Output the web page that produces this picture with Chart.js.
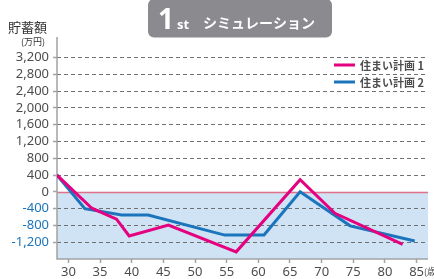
<!DOCTYPE html>
<html>
<head>
<meta charset="utf-8">
<script src="https://cdn.jsdelivr.net/npm/chart.js@4/dist/chart.umd.min.js"></script>
<style>
  html, body { margin: 0; padding: 0; background: #fff; }
  #wrap { width: 434px; height: 279px; position: relative; }
</style>
</head>
<body>
<div id="wrap"><canvas id="chart"></canvas></div>
<script>
// data
const seriesNames = ["住まい計画 1", "住まい計画 2"];
const ages1 = [28.2, 33.7, 37.6, 39.6, 45.8, 56.5, 66.6, 72.1, 82.8];
const plan1 = [400, -390, -650, -1050, -790, -1430, 290, -510, -1250];
const ages2 = [28.2, 32.6, 38.4, 42.6, 54.7, 60.9, 66.6, 74.5, 84.7];
const plan2 = [400, -400, -550, -550, -1030, -1030, 0, -810, -1170];
const xTicks = [30, 35, 40, 45, 50, 55, 60, 65, 70, 75, 80, 85];
const yTicks = [-1200, -800, -400, 0, 400, 800, 1200, 1600, 2000, 2400, 2800, 3200];

const pink = "#e4007f";
const blue = "#1b75bc";
const grayText = "#4d4d4d";
const axisGray = "#a3a3a3";

const toPoints = (xs, ys) => xs.map((x, i) => ({x: x, y: ys[i]}));

// background under zero, zero line, axes, title, legend
const decor = {
    id: "decor",
    beforeDraw(chart) {
        const {ctx, chartArea: a, scales: {y}} = chart;
        const y0 = y.getPixelForValue(0);
        ctx.save();
        ctx.fillStyle = "#cfe3f5";
        ctx.fillRect(a.left, y0, a.right - a.left, a.bottom - y0);
        ctx.restore();
    },
    beforeDatasetsDraw(chart) {
        const {ctx, chartArea: a, scales: {y}} = chart;
        const y0 = Math.round(y.getPixelForValue(0)) + 0.5;
        ctx.save();
        ctx.strokeStyle = "#e0728a";
        ctx.lineWidth = 1.5;
        ctx.beginPath();
        ctx.moveTo(a.left, y0);
        ctx.lineTo(a.right, y0);
        ctx.stroke();
        // axis lines
        ctx.strokeStyle = axisGray;
        ctx.lineWidth = 1.5;
        ctx.beginPath();
        ctx.moveTo(a.left, a.top);
        ctx.lineTo(a.left, a.bottom);
        ctx.lineTo(a.right, a.bottom);
        ctx.stroke();
        ctx.restore();
    },
    afterDraw(chart) {
        const ctx = chart.ctx;
        ctx.save();
        // title box
        ctx.fillStyle = "#8b8b8f";
        ctx.beginPath();
        ctx.roundRect(148, -1, 184, 38.5, 6);
        ctx.fill();
        ctx.fillStyle = "#fff";
        ctx.textBaseline = "alphabetic";
        ctx.font = "bold 28px 'Noto Sans'";
        ctx.fillText("1", 158, 29);
        ctx.font = "bold 13px 'Noto Sans'";
        ctx.fillText("st", 177, 29);
        ctx.font = "bold 14px 'Noto Sans CJK JP'";
        ctx.fillText("シミュレーション", 203, 28);

        // y axis title
        ctx.fillStyle = "#333";
        ctx.font = "13px 'Noto Sans CJK JP'";
        ctx.fillText("貯蓄額", 8, 32);
        ctx.font = "9px 'Noto Sans CJK JP'";
        ctx.fillText("(万円)", 21, 45);

        // unit after x labels
        ctx.fillStyle = grayText;
        ctx.font = "9px 'Noto Sans CJK JP'";
        ctx.fillText("(歳)", 424, 275);

        // legend
        const rows = [[seriesNames[0], pink, 65], [seriesNames[1], blue, 82]];
        ctx.font = "bold 11px 'Noto Sans CJK JP'";
        ctx.textBaseline = "middle";
        rows.forEach(r => {
            ctx.strokeStyle = r[1];
            ctx.lineWidth = 3;
            ctx.beginPath();
            ctx.moveTo(334, r[2]);
            ctx.lineTo(355, r[2]);
            ctx.stroke();
            ctx.fillStyle = grayText;
            ctx.fillText(r[0], 360, r[2] + 0.5);
        });
        ctx.restore();
    }
};

new Chart(document.getElementById("chart"), {
    type: "line",
    data: {
        datasets: [{
            label: seriesNames[0],
            data: toPoints(ages1, plan1),
            borderColor: pink,
            borderWidth: 3,
            pointRadius: 0,
            tension: 0
        }, {
            label: seriesNames[1],
            data: toPoints(ages2, plan2),
            borderColor: blue,
            borderWidth: 3,
            pointRadius: 0,
            tension: 0
        }]
    },
    options: {
        responsive: true,
        maintainAspectRatio: false,
        animation: false,
        layout: { padding: { top: 37, right: 6, left: 0, bottom: 0 } },
        plugins: { legend: { display: false }, tooltip: { enabled: false } },
        scales: {
            x: {
                type: "linear",
                min: 28.2,
                max: 86.8,
                afterBuildTicks: s => { s.ticks = xTicks.map(v => ({value: v})); },
                afterFit: s => { s.height = 20; },
                grid: { drawOnChartArea: false, tickLength: 4, tickColor: axisGray, tickWidth: 1.5 },
                border: { display: false },
                ticks: {
                    padding: 1,
                    color: grayText,
                    font: { family: "'Noto Sans'", size: 13 },
                    callback: v => String(v)
                }
            },
            y: {
                min: -1600,
                max: 3690,
                afterBuildTicks: s => { s.ticks = yTicks.map(v => ({value: v})); },
                afterFit: s => { s.width = 57; },
                grid: {
                    color: c => c.tick && c.tick.value === 0 ? "rgba(0,0,0,0)" : "#707070",
                    lineWidth: 1,
                    tickLength: 4,
                    tickColor: axisGray,
                    tickWidth: 1.5,
                    tickBorderDash: []
                },
                border: { display: false, dash: [4, 3] },
                ticks: {
                    padding: 4,
                    color: c => c.tick.value < 0 ? blue : grayText,
                    font: { family: "'Noto Sans'", size: 13 },
                    callback: v => v.toLocaleString("en-US")
                }
            }
        }
    },
    plugins: [decor]
});
</script>
</body>
</html>
